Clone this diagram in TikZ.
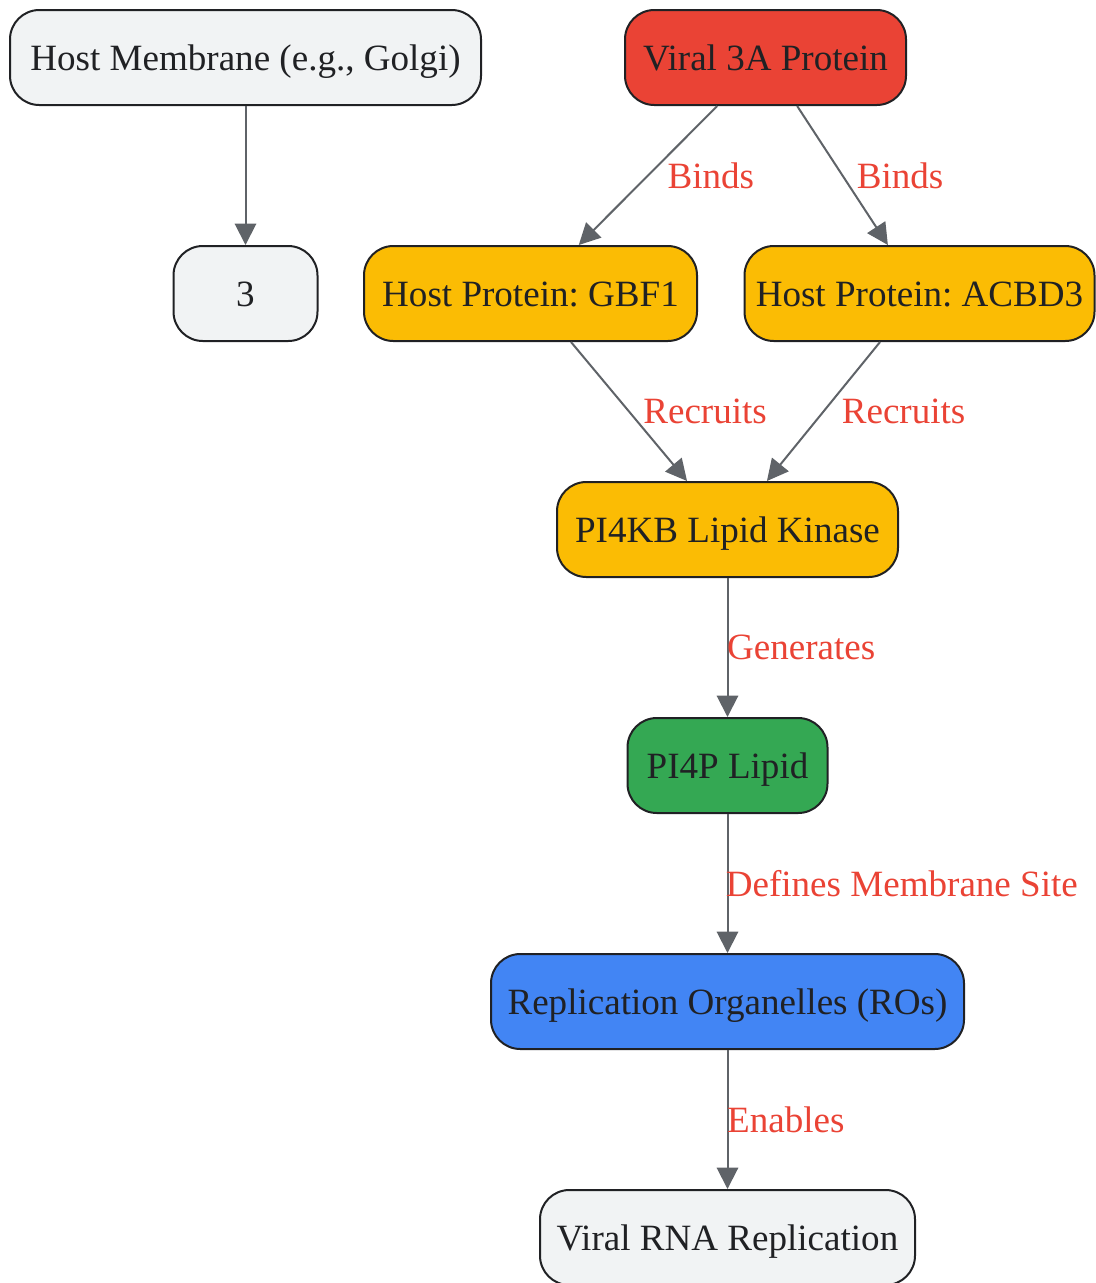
\documentclass[tikz,border=0pt]{standalone}
\usepackage{fontspec}
\setmainfont{Liberation Serif}
\usetikzlibrary{arrows.meta,positioning}
\definecolor{boxred}{HTML}{EA4335}
\definecolor{boxyellow}{HTML}{FBBC04}
\definecolor{boxgreen}{HTML}{34A853}
\definecolor{boxblue}{HTML}{4285F4}
\definecolor{boxgrey}{HTML}{F1F3F4}
\definecolor{boxline}{HTML}{202124}
\definecolor{arrowgrey}{HTML}{5F6368}
\definecolor{labelred}{HTML}{EA4335}
\frenchspacing
\begin{document}
\begin{tikzpicture}[x=0.75pt, y=-0.75pt, node distance=177pt]

    % Styles
    \tikzstyle{stepbox} = [rectangle, rounded corners=22pt, minimum height=71.25pt, text centered, draw=boxline, line width=1.5pt, text=boxline, font=\fontsize{27.8}{33}\selectfont, text height=19.7pt, text depth=0pt]
    \tikzstyle{plain} = [stepbox, fill=boxgrey]
    \tikzstyle{viral} = [stepbox, fill=boxred]
    \tikzstyle{host} = [stepbox, fill=boxyellow]
    \tikzstyle{lipid} = [stepbox, fill=boxgreen]
    \tikzstyle{organelle} = [stepbox, fill=boxblue]
    \tikzstyle{arrow} = [line width=1.5pt, draw=arrowgrey, -{Triangle[length=16pt, width=16pt]}]
    \tikzset{lbl/.style={anchor=west, inner sep=0pt, text=labelred, font=\fontsize{27.8}{33}\selectfont}}

    \useasboundingbox (0,0) rectangle (1096,1283);

    % Noeuds
    \node (membrane) [plain, minimum width=353.25pt] at (245.5,57.5) {Host Membrane (e.g., Golgi)};
    \node (three) [plain, minimum width=108pt, below of=membrane] {3};
    \node (v3a) [viral, minimum width=210.75pt] at (765.5,57.5) {Viral 3A Protein};
    \node (gbf1) [host, minimum width=249.75pt, below of=v3a, xshift=-176.25pt] {Host Protein: GBF1};
    \node (acbd3) [host, minimum width=262.5pt, below of=v3a, xshift=115.5pt] {Host Protein: ACBD3};
    \node (pi4kb) [host, minimum width=255.75pt, below of=gbf1, xshift=147.75pt] {PI4KB Lipid Kinase};
    \node (pi4p) [lipid, minimum width=150pt, below of=pi4kb] {PI4P Lipid};
    \node (ros) [organelle, minimum width=354.75pt, below of=pi4p] {Replication Organelles (ROs)};
    \node (rna) [plain, minimum width=281.25pt, below of=ros] {Viral RNA Replication};

    % Flèches
    \draw [arrow] (membrane) -- (three);
    \draw [arrow] (v3a) -- node[lbl, xshift=14pt] {Binds} (gbf1);
    \draw [arrow] (v3a) -- node[lbl, xshift=10pt] {Binds} (acbd3);
    \draw [arrow] (gbf1) -- node[lbl, xshift=10pt] {Recruits} (pi4kb);
    \draw [arrow] (acbd3) -- node[lbl, xshift=13pt] {Recruits} (pi4kb);
    \draw [arrow] (pi4kb) -- node[lbl, xshift=-1pt] {Generates} (pi4p);
    \draw [arrow] (pi4p) -- node[lbl, xshift=-2pt] {Defines Membrane Site} (ros);
    \draw [arrow] (ros) -- node[lbl, xshift=-1pt] {Enables} (rna);

\end{tikzpicture}
\end{document}
